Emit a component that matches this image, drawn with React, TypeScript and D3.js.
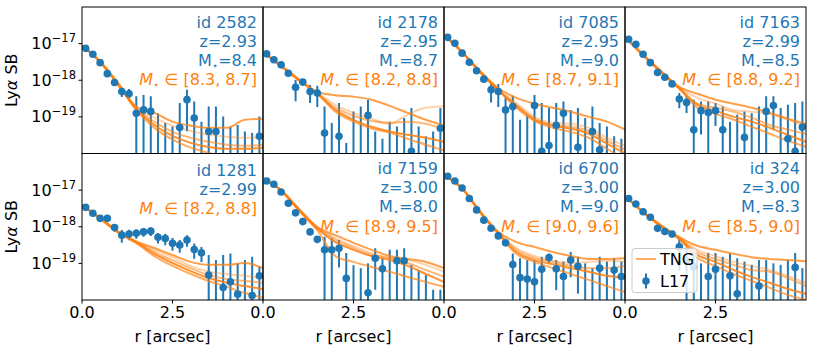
import * as d3 from "d3";
import { useEffect, useRef } from "react";

// radii of the observed (L17) profile points, arcsec
const radii = [0.1, 0.3, 0.5, 0.7, 0.9, 1.1, 1.3, 1.5, 1.7, 1.9, 2.1, 2.3, 2.5, 2.7, 2.9, 3.1, 3.3, 3.5, 3.7, 3.9, 4.1, 4.3, 4.5, 4.7, 4.9];
// radii of the TNG profile samples
const tngRadii = [0, 0.5, 1.0, 1.5, 2.0, 2.5, 3.0, 3.5, 4.0, 4.5, 5.0];

const ids = ["2582", "2178", "7085", "7163", "1281", "7159", "6700", "324"];
const redshifts = ["2.93", "2.95", "2.95", "2.99", "2.99", "3.00", "3.00", "3.00"];
const stellarMass = ["8.4", "8.7", "9.0", "8.5", "", "8.0", "9.0", "8.3"];
const massRanges = ["[8.3, 8.7]", "[8.2, 8.8]", "[8.7, 9.1]", "[8.8, 9.2]", "[8.2, 8.8]", "[8.9, 9.5]", "[9.0, 9.6]", "[8.5, 9.0]"];

const yTicks = [-17, -18, -19];
const xTicks = [0, 2.5];

// log10 SB of observed points and log10 of their upper error ends
const sb2582 = [-17.13, -17.29, -17.52, -17.82, -18.06, -18.31, -18.37, -18.90, -18.81, -18.85, -20.4, -20.4, -20.4, -19.29, -18.53, -19.03, -20.4, -19.40, -19.40, -20.4, -20.4, -20.4, -20.4, -20.4, -19.53];
const hi2582 = [-17.10, -17.26, -17.49, -17.78, -18.01, -18.20, -18.24, -18.44, -18.40, -18.44, -18.90, -19.17, -19.26, -18.62, -18.26, -18.58, -19.13, -18.72, -18.72, -18.99, -19.26, -19.22, -19.40, -19.44, -18.99];
const sb2178 = [-17.28, -17.44, -17.58, -17.81, -18.19, -18.05, -18.31, -18.35, -19.44, -20.4, -19.53, -20.4, -20.4, -20.4, -18.96, -20.4, -20.4, -20.4, -20.4, -20.4, -19.94, -20.4, -20.4, -20.4, -19.31];
const hi2178 = [-17.25, -17.41, -17.55, -17.78, -17.99, -17.98, -18.13, -18.15, -18.72, -19.17, -18.62, -19.71, -18.85, -18.72, -18.53, -19.40, -19.60, -19.13, -19.26, -19.03, -18.76, -19.26, -19.53, -19.40, -18.76];
const sb7085 = [-16.83, -16.99, -17.26, -17.51, -17.74, -17.97, -18.26, -18.31, -18.81, -18.72, -20.4, -20.4, -18.69, -19.94, -19.78, -19.23, -18.90, -20.4, -19.83, -20.4, -19.40, -19.90, -20.4, -20.4, -20.4];
const hi7085 = [-16.80, -16.96, -17.23, -17.48, -17.71, -17.93, -18.07, -18.10, -18.48, -18.42, -19.08, -18.94, -18.40, -18.62, -18.76, -18.62, -18.58, -18.81, -18.76, -19.03, -18.72, -19.17, -19.26, -19.53, -19.60];
const sb7163 = [-16.88, -17.02, -17.29, -17.52, -17.79, -17.92, -18.10, -18.51, -18.61, -19.35, -18.83, -18.88, -18.83, -19.35, -20.4, -20.4, -19.56, -20.4, -20.4, -18.85, -18.69, -20.4, -19.60, -19.94, -19.28];
const hi7163 = [-16.85, -16.99, -17.26, -17.49, -17.75, -17.87, -18.03, -18.35, -18.44, -18.53, -18.58, -18.58, -18.62, -18.72, -19.13, -18.94, -18.85, -18.90, -18.72, -18.44, -18.44, -18.76, -18.67, -18.62, -18.58];
const sb1281 = [-17.47, -17.63, -17.77, -17.77, -18.02, -18.23, -18.20, -18.18, -18.14, -18.12, -18.29, -18.32, -18.45, -18.50, -18.36, -18.62, -18.71, -19.32, -20.4, -19.66, -19.50, -19.84, -20.4, -19.88, -19.34];
const hi1281 = [-17.42, -17.57, -17.71, -17.70, -17.93, -18.09, -18.08, -18.07, -18.04, -18.02, -18.17, -18.19, -18.31, -18.36, -18.23, -18.46, -18.55, -18.77, -18.91, -18.77, -18.73, -19.00, -18.91, -18.82, -19.09];
const sb7159 = [-16.75, -16.84, -17.05, -17.36, -17.62, -17.86, -18.14, -18.34, -18.63, -18.63, -18.59, -19.41, -20.4, -20.4, -19.80, -18.86, -19.15, -20.4, -18.93, -18.93, -20.4, -20.4, -20.4, -20.4, -20.4];
const hi7159 = [-16.72, -16.81, -17.02, -17.33, -17.58, -17.81, -18.08, -18.25, -18.27, -18.31, -18.36, -18.72, -19.05, -19.13, -19.00, -18.59, -18.86, -18.63, -18.63, -18.59, -19.04, -19.18, -19.32, -19.72, -19.72];
const sb6700 = [-16.62, -16.75, -16.94, -17.23, -17.54, -17.82, -18.04, -18.25, -18.44, -19.03, -19.39, -19.43, -19.50, -19.16, -18.84, -19.15, -19.36, -18.91, -19.08, -20.4, -20.4, -19.13, -20.4, -19.18, -19.36];
const hi6700 = [-16.59, -16.72, -16.91, -17.20, -17.50, -17.78, -17.99, -18.19, -18.37, -18.73, -18.86, -18.91, -18.91, -18.82, -18.73, -18.91, -18.95, -18.69, -18.82, -19.00, -19.13, -18.82, -18.95, -18.86, -18.95];
const sb324 = [-17.23, -17.38, -17.59, -17.74, -18.04, -18.13, -18.20, -18.55, -18.95, -19.10, -20.4, -19.36, -19.16, -20.4, -19.34, -19.83, -20.4, -20.4, -19.62, -20.4, -20.4, -20.4, -20.4, -19.11, -20.4];
const hi324 = [-17.20, -17.35, -17.56, -17.71, -18.00, -18.08, -18.14, -18.30, -18.60, -18.70, -19.00, -18.72, -18.72, -18.82, -18.72, -18.86, -18.95, -19.04, -18.91, -18.91, -19.00, -19.04, -18.91, -18.72, -19.13];

// TNG analogue profiles, log10 SB at tngRadii
const tng2582 = [
  [-17.05, -17.48, -18.08, -18.72, -18.89, -19.13, -19.24, -19.30, -19.30, -19.08, -19.05],
  [-17.05, -17.49, -18.10, -18.75, -19.02, -19.24, -19.38, -19.49, -19.54, -19.57, -19.57],
  [-17.05, -17.50, -18.11, -18.77, -19.13, -19.41, -19.57, -19.68, -19.76, -19.79, -19.76],
  [-17.05, -17.50, -18.12, -18.79, -19.22, -19.52, -19.71, -19.82, -19.87, -19.87, -19.84],
  [-17.05, -17.51, -18.13, -18.82, -19.30, -19.62, -19.84, -19.98, -20.12, -20.22, -20.30],
];
const tng2178 = [
  [-17.23, -17.60, -17.98, -18.32, -18.41, -18.45, -18.53, -18.70, -18.89, -19.08, -19.24],
  [-17.23, -17.61, -17.99, -18.34, -18.67, -18.89, -19.05, -19.19, -18.94, -18.75, -18.72],
  [-17.23, -17.61, -18.00, -18.35, -18.75, -18.97, -19.11, -19.16, -19.13, -19.19, -19.35],
  [-17.23, -17.62, -18.00, -18.36, -18.81, -19.08, -19.27, -19.40, -19.49, -19.57, -19.68],
  [-17.23, -17.62, -18.01, -18.37, -18.86, -19.13, -19.32, -19.43, -19.60, -19.76, -19.92],
];
const tng7085 = [
  [-16.76, -17.22, -17.75, -18.22, -18.48, -18.64, -18.75, -18.86, -19.00, -19.13, -19.35],
  [-16.76, -17.23, -17.77, -18.25, -18.62, -19.00, -19.16, -19.19, -19.30, -19.57, -19.79],
  [-16.76, -17.23, -17.77, -18.26, -18.67, -19.05, -19.22, -19.27, -19.38, -19.65, -19.90],
  [-16.76, -17.24, -17.78, -18.27, -18.70, -19.08, -19.24, -19.32, -19.46, -19.73, -20.00],
  [-16.76, -17.24, -17.79, -18.28, -18.75, -19.11, -19.30, -19.41, -19.57, -19.87, -20.17],
];
const tng7163 = [
  [-16.82, -17.30, -17.75, -18.18, -18.37, -18.53, -18.64, -18.75, -18.89, -19.05, -19.19],
  [-16.82, -17.31, -17.76, -18.20, -18.48, -18.64, -18.81, -18.86, -18.92, -19.08, -19.27],
  [-16.82, -17.31, -17.77, -18.21, -18.64, -18.75, -18.86, -19.02, -19.22, -19.35, -19.46],
  [-16.82, -17.32, -17.78, -18.22, -18.67, -18.83, -19.00, -19.13, -19.30, -19.49, -19.68],
  [-16.82, -17.32, -17.79, -18.24, -18.75, -18.92, -19.08, -19.27, -19.46, -19.65, -19.82],
];
const tng1281 = [
  [-17.41, -17.76, -18.13, -18.40, -18.58, -18.77, -18.96, -19.04, -19.04, -18.99, -19.13],
  [-17.41, -17.76, -18.14, -18.41, -18.63, -18.83, -19.07, -19.23, -19.29, -19.34, -19.40],
  [-17.41, -17.77, -18.14, -18.42, -18.69, -18.91, -19.13, -19.32, -19.43, -19.48, -19.53],
  [-17.41, -17.77, -18.15, -18.43, -18.74, -18.99, -19.21, -19.40, -19.53, -19.62, -19.70],
  [-17.41, -17.78, -18.16, -18.45, -18.80, -19.07, -19.29, -19.48, -19.64, -19.81, -19.94],
];
const tng7159 = [
  [-16.67, -17.00, -17.52, -18.01, -18.23, -18.44, -18.63, -18.80, -18.88, -18.96, -19.13],
  [-16.67, -17.00, -17.53, -18.02, -18.31, -18.53, -18.72, -18.85, -18.91, -19.04, -19.23],
  [-16.67, -17.01, -17.54, -18.03, -18.36, -18.58, -18.77, -18.85, -18.99, -19.18, -19.37],
  [-16.67, -17.01, -17.55, -18.05, -18.42, -18.63, -18.80, -18.91, -19.07, -19.29, -19.51],
  [-16.67, -17.02, -17.57, -18.10, -18.80, -18.96, -19.10, -19.23, -19.37, -19.51, -19.64],
];
const tng6700 = [
  [-16.59, -16.94, -17.58, -18.14, -18.42, -18.55, -18.69, -18.80, -18.88, -18.88, -18.86],
  [-16.59, -16.95, -17.59, -18.16, -18.58, -18.80, -18.93, -18.99, -18.96, -18.93, -18.96],
  [-16.59, -16.95, -17.60, -18.17, -18.63, -18.85, -18.96, -19.07, -19.13, -19.13, -19.07],
  [-16.59, -16.96, -17.61, -18.18, -18.69, -18.91, -19.02, -19.13, -19.23, -19.34, -19.40],
  [-16.59, -16.96, -17.62, -18.20, -18.74, -18.96, -19.13, -19.29, -19.45, -19.62, -19.78],
];
const tng324 = [
  [-17.16, -17.59, -17.96, -18.28, -18.52, -18.63, -18.74, -18.83, -18.88, -18.91, -18.94],
  [-17.16, -17.60, -17.97, -18.30, -18.63, -18.80, -18.96, -19.07, -19.18, -19.34, -19.53],
  [-17.16, -17.60, -17.98, -18.31, -18.69, -18.88, -19.04, -19.18, -19.23, -19.40, -19.62],
  [-17.16, -17.61, -17.99, -18.33, -18.77, -18.96, -19.18, -19.37, -19.53, -19.70, -19.83],
  [-17.16, -17.61, -18.00, -18.35, -18.85, -19.07, -19.29, -19.48, -19.67, -19.86, -20.00],
];

const sbValues = [sb2582, sb2178, sb7085, sb7163, sb1281, sb7159, sb6700, sb324];
const sbUpper = [hi2582, hi2178, hi7085, hi7163, hi1281, hi7159, hi6700, hi324];
const tngProfiles = [tng2582, tng2178, tng7085, tng7163, tng1281, tng7159, tng6700, tng324];

const tngOpacity = [0.75, 0.35, 0.55, 0.85, 0.65];

const App = () => {
  const ref = useRef<SVGSVGElement>(null);

  useEffect(() => {
    const width = 822;
    const height = 353;
    const blue = "#1f77b4";
    const orange = "#ff7f0e";
    const font = "DejaVu Sans, sans-serif";
    const colX = [82, 263, 444, 625];
    const rowY = [7, 153.5];
    const panelW = 181;
    const panelH = 146.5;

    const svg = d3.select(ref.current);
    svg.selectAll("*").remove();
    svg.attr("width", width).attr("height", height);
    svg.append("rect").attr("width", width).attr("height", height).attr("fill", "white");

    ids.forEach((id, k) => {
      const col = k % 4;
      const row = Math.floor(k / 4);
      const x0 = colX[col];
      const y0 = rowY[row];

      const x = d3.scaleLinear().domain([0, 5]).range([x0, x0 + panelW]);
      const y = d3.scaleLog().domain([1e-20, 1e-16]).range([y0 + panelH, y0]);

      const clipId = `clip-${k}`;
      svg.append("clipPath").attr("id", clipId)
        .append("rect").attr("x", x0).attr("y", y0).attr("width", panelW).attr("height", panelH);

      const g = svg.append("g").attr("clip-path", `url(#${clipId})`);

      const pts = radii.map((r, i) => {
        const c = Math.pow(10, sbValues[k][i]);
        const hi = Math.pow(10, sbUpper[k][i]);
        const lo = 2 * c - hi;
        return { r, c, hi, lo: lo > 0 ? lo : 1e-22 };
      });

      // error bars
      g.selectAll(".bar").data(pts).enter().append("line")
        .attr("x1", d => x(d.r)).attr("x2", d => x(d.r))
        .attr("y1", d => y(d.hi)).attr("y2", d => y(d.lo))
        .attr("stroke", blue).attr("stroke-width", 2);

      // TNG profiles
      const line = d3.line<number>()
        .x((_, i) => x(tngRadii[i]))
        .y(v => y(Math.pow(10, v)))
        .curve(d3.curveMonotoneX);
      tngProfiles[k].forEach((prof, j) => {
        g.append("path")
          .datum(prof)
          .attr("fill", "none")
          .attr("stroke", orange)
          .attr("stroke-opacity", tngOpacity[j])
          .attr("stroke-width", 2)
          .attr("d", line);
      });

      // markers
      g.selectAll(".dot").data(pts).enter().append("circle")
        .attr("cx", d => x(d.r)).attr("cy", d => y(d.c))
        .attr("r", 3.8).attr("fill", blue);

      // frame
      svg.append("rect")
        .attr("x", x0).attr("y", y0).attr("width", panelW).attr("height", panelH)
        .attr("fill", "none").attr("stroke", "black").attr("stroke-width", 1);

      // annotation
      const right = x0 + panelW - 6;
      const hasMass = stellarMass[k] !== "";
      const offs = hasMass ? [20.5, 39.5, 58.5, 78] : [22, 41, 60.5];
      const txt = (dy: number, color: string) => svg.append("text")
        .attr("x", right).attr("y", y0 + dy)
        .attr("text-anchor", "end")
        .attr("font-family", font).attr("font-size", 16)
        .attr("fill", color);
      txt(offs[0], blue).text(`id ${id}`);
      txt(offs[1], blue).text(`z=${redshifts[k]}`);
      if (hasMass) {
        const t = txt(offs[2], blue);
        t.append("tspan").text("M");
        t.append("tspan").attr("font-size", 10).attr("dy", 3).text("⋆");
        t.append("tspan").attr("dy", -3).text(`=${stellarMass[k]}`);
      }
      const t2 = txt(offs[offs.length - 1], orange);
      t2.append("tspan").attr("font-style", "italic").text("M");
      t2.append("tspan").attr("font-size", 10).attr("dy", 3).text("⋆");
      t2.append("tspan").attr("dy", -3).text(` ∈ ${massRanges[k]}`);

      // y axis on first column
      if (col === 0) {
        yTicks.forEach(t => {
          const ty = y(Math.pow(10, t));
          svg.append("line").attr("x1", x0 - 3.5).attr("x2", x0).attr("y1", ty).attr("y2", ty)
            .attr("stroke", "black").attr("stroke-width", 1);
          const lab = svg.append("text")
            .attr("x", x0 - 6).attr("y", ty + 5.5)
            .attr("text-anchor", "end")
            .attr("font-family", font).attr("font-size", 16).attr("fill", "black");
          lab.append("tspan").text("10");
          lab.append("tspan").attr("dy", -7).attr("font-size", 11.5).text(`−${-t}`);
        });
        const cy = y0 + panelH / 2;
        const yl = svg.append("text")
          .attr("transform", `translate(${17}, ${cy}) rotate(-90)`)
          .attr("text-anchor", "middle")
          .attr("font-family", font).attr("font-size", 16).attr("fill", "black");
        yl.append("tspan").text("Ly");
        yl.append("tspan").attr("font-style", "italic").text("α");
        yl.append("tspan").text(" SB");
      }

      // x axis on bottom row
      if (row === 1) {
        xTicks.forEach(t => {
          svg.append("line").attr("x1", x(t)).attr("x2", x(t))
            .attr("y1", y0 + panelH).attr("y2", y0 + panelH + 3.5)
            .attr("stroke", "black").attr("stroke-width", 1);
          svg.append("text")
            .attr("x", x(t)).attr("y", y0 + panelH + 18)
            .attr("text-anchor", "middle")
            .attr("font-family", font).attr("font-size", 16).attr("fill", "black")
            .text(t.toFixed(1));
        });
        svg.append("text")
          .attr("x", x0 + panelW / 2).attr("y", y0 + panelH + 42)
          .attr("text-anchor", "middle")
          .attr("font-family", font).attr("font-size", 16).attr("fill", "black")
          .text("r [arcsec]");
      }

      // legend in last panel
      if (k === 7) {
        const lx = x0 + 7;
        const ly = y0 + 95;
        const lg = svg.append("g");
        lg.append("rect").attr("x", lx).attr("y", ly).attr("width", 65).attr("height", 44)
          .attr("rx", 3).attr("fill", "white").attr("fill-opacity", 0.8)
          .attr("stroke", "#cccccc");
        lg.append("line").attr("x1", lx + 4).attr("x2", lx + 24)
          .attr("y1", ly + 10.5).attr("y2", ly + 10.5)
          .attr("stroke", orange).attr("stroke-opacity", 0.65).attr("stroke-width", 2);
        lg.append("text").attr("x", lx + 28).attr("y", ly + 16.5)
          .attr("font-family", font).attr("font-size", 16).attr("fill", "black").text("TNG");
        lg.append("line").attr("x1", lx + 14).attr("x2", lx + 14)
          .attr("y1", ly + 25).attr("y2", ly + 40)
          .attr("stroke", blue).attr("stroke-width", 2);
        lg.append("circle").attr("cx", lx + 14).attr("cy", ly + 32.5).attr("r", 3.8).attr("fill", blue);
        lg.append("text").attr("x", lx + 28).attr("y", ly + 38.5)
          .attr("font-family", font).attr("font-size", 16).attr("fill", "black").text("L17");
      }
    });
  }, []);

  return <svg ref={ref} style={{ position: "absolute", left: 0, top: 0 }} />;
};

export default App;
